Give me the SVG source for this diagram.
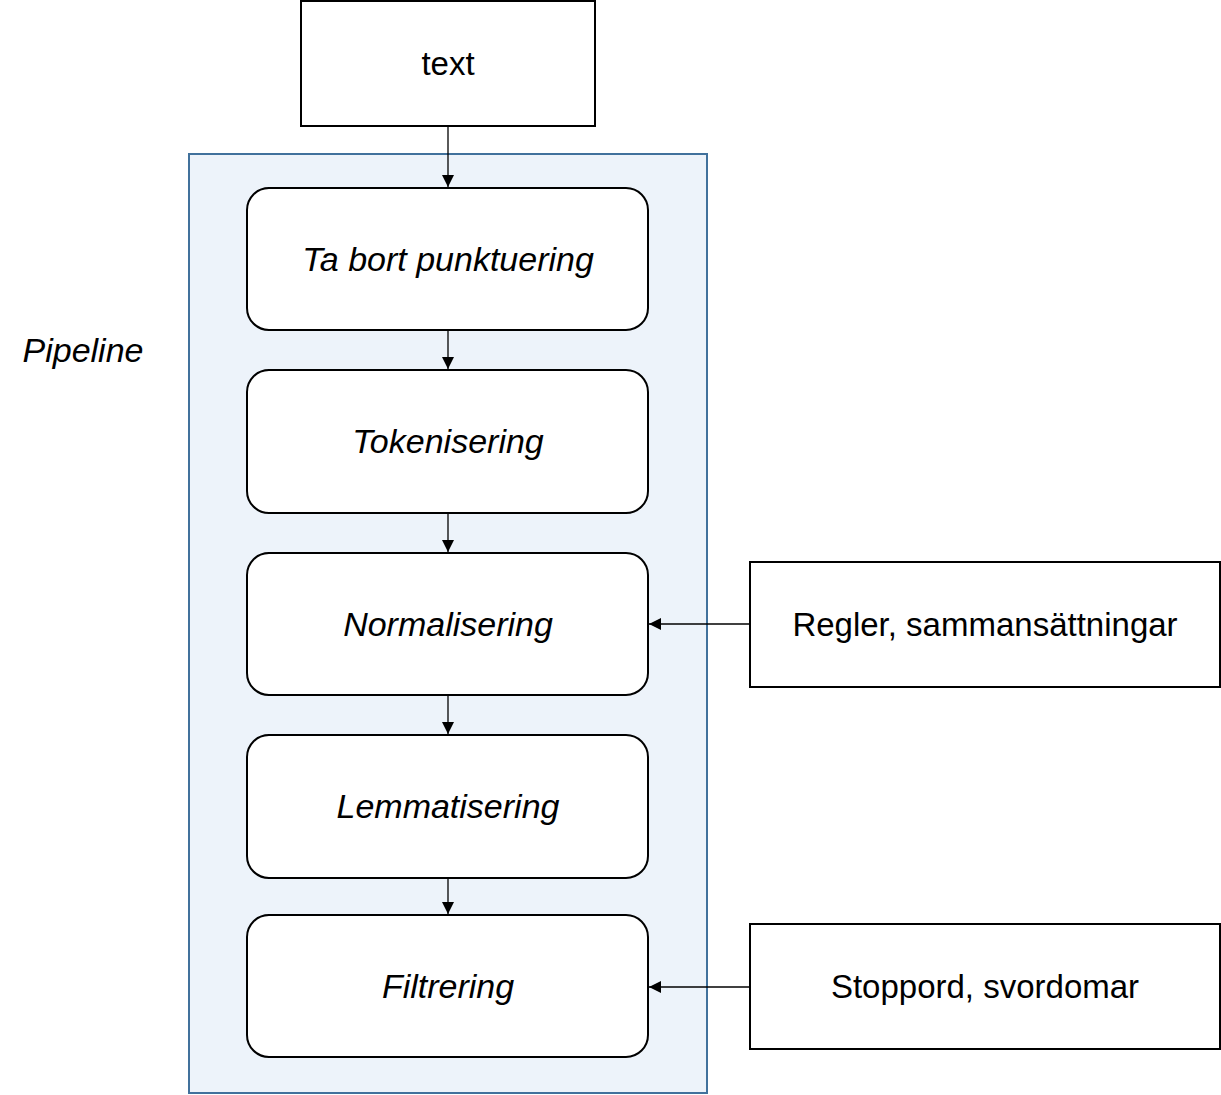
<svg xmlns="http://www.w3.org/2000/svg" width="1221" height="1095" viewBox="0 0 1221 1095">
<style>
.t{font-family:"Liberation Sans",Arial,sans-serif;font-size:33px;fill:#000;text-anchor:middle}
.i{font-style:italic;font-size:34px}
.step{fill:#fff;stroke:#000;stroke-width:2}
.box{fill:#fff;stroke:#000;stroke-width:2}
.c{stroke:#000;stroke-width:1.3;fill:none}
</style>
<defs>
<marker id="a" viewBox="0 0 12 12" refX="12" refY="6" markerWidth="12" markerHeight="12" markerUnits="userSpaceOnUse" orient="auto">
<path d="M0,0 L12,6 L0,12 z" fill="#000"/>
</marker>
</defs>
<g id="pipeline">
<rect x="189" y="154" width="518" height="939" fill="#EDF3FA" stroke="#41719C" stroke-width="2"/>
<text class="t i" x="83" y="362" text-anchor="middle">Pipeline</text>
</g>
<g id="text-node">
<rect class="box" x="301" y="1" width="294" height="125"/>
<text class="t" x="448" y="75">text</text>
</g>
<g id="step1">
<rect class="step" x="247" y="188" width="401" height="142" rx="22"/>
<text class="t i" x="448" y="271">Ta bort punktuering</text>
</g>
<g id="step2">
<rect class="step" x="247" y="370" width="401" height="143" rx="22"/>
<text class="t i" x="448" y="453">Tokenisering</text>
</g>
<g id="step3">
<rect class="step" x="247" y="553" width="401" height="142" rx="22"/>
<text class="t i" x="448" y="636">Normalisering</text>
</g>
<g id="step4">
<rect class="step" x="247" y="735" width="401" height="143" rx="22"/>
<text class="t i" x="448" y="818">Lemmatisering</text>
</g>
<g id="step5">
<rect class="step" x="247" y="915" width="401" height="142" rx="22"/>
<text class="t i" x="448" y="998">Filtrering</text>
</g>
<g id="rules">
<rect class="box" x="750" y="562" width="470" height="125"/>
<text class="t" x="985" y="636">Regler, sammansättningar</text>
</g>
<g id="stopwords">
<rect class="box" x="750" y="924" width="470" height="125"/>
<text class="t" x="985" y="998">Stoppord, svordomar</text>
</g>
<g id="connectors">
<line class="c" x1="448" y1="126" x2="448" y2="187" marker-end="url(#a)"/>
<line class="c" x1="448" y1="330" x2="448" y2="369" marker-end="url(#a)"/>
<line class="c" x1="448" y1="513" x2="448" y2="552" marker-end="url(#a)"/>
<line class="c" x1="448" y1="695" x2="448" y2="734" marker-end="url(#a)"/>
<line class="c" x1="448" y1="878" x2="448" y2="914" marker-end="url(#a)"/>
<line class="c" x1="750" y1="624" x2="649" y2="624" marker-end="url(#a)"/>
<line class="c" x1="750" y1="987" x2="649" y2="987" marker-end="url(#a)"/>
</g>
</svg>
